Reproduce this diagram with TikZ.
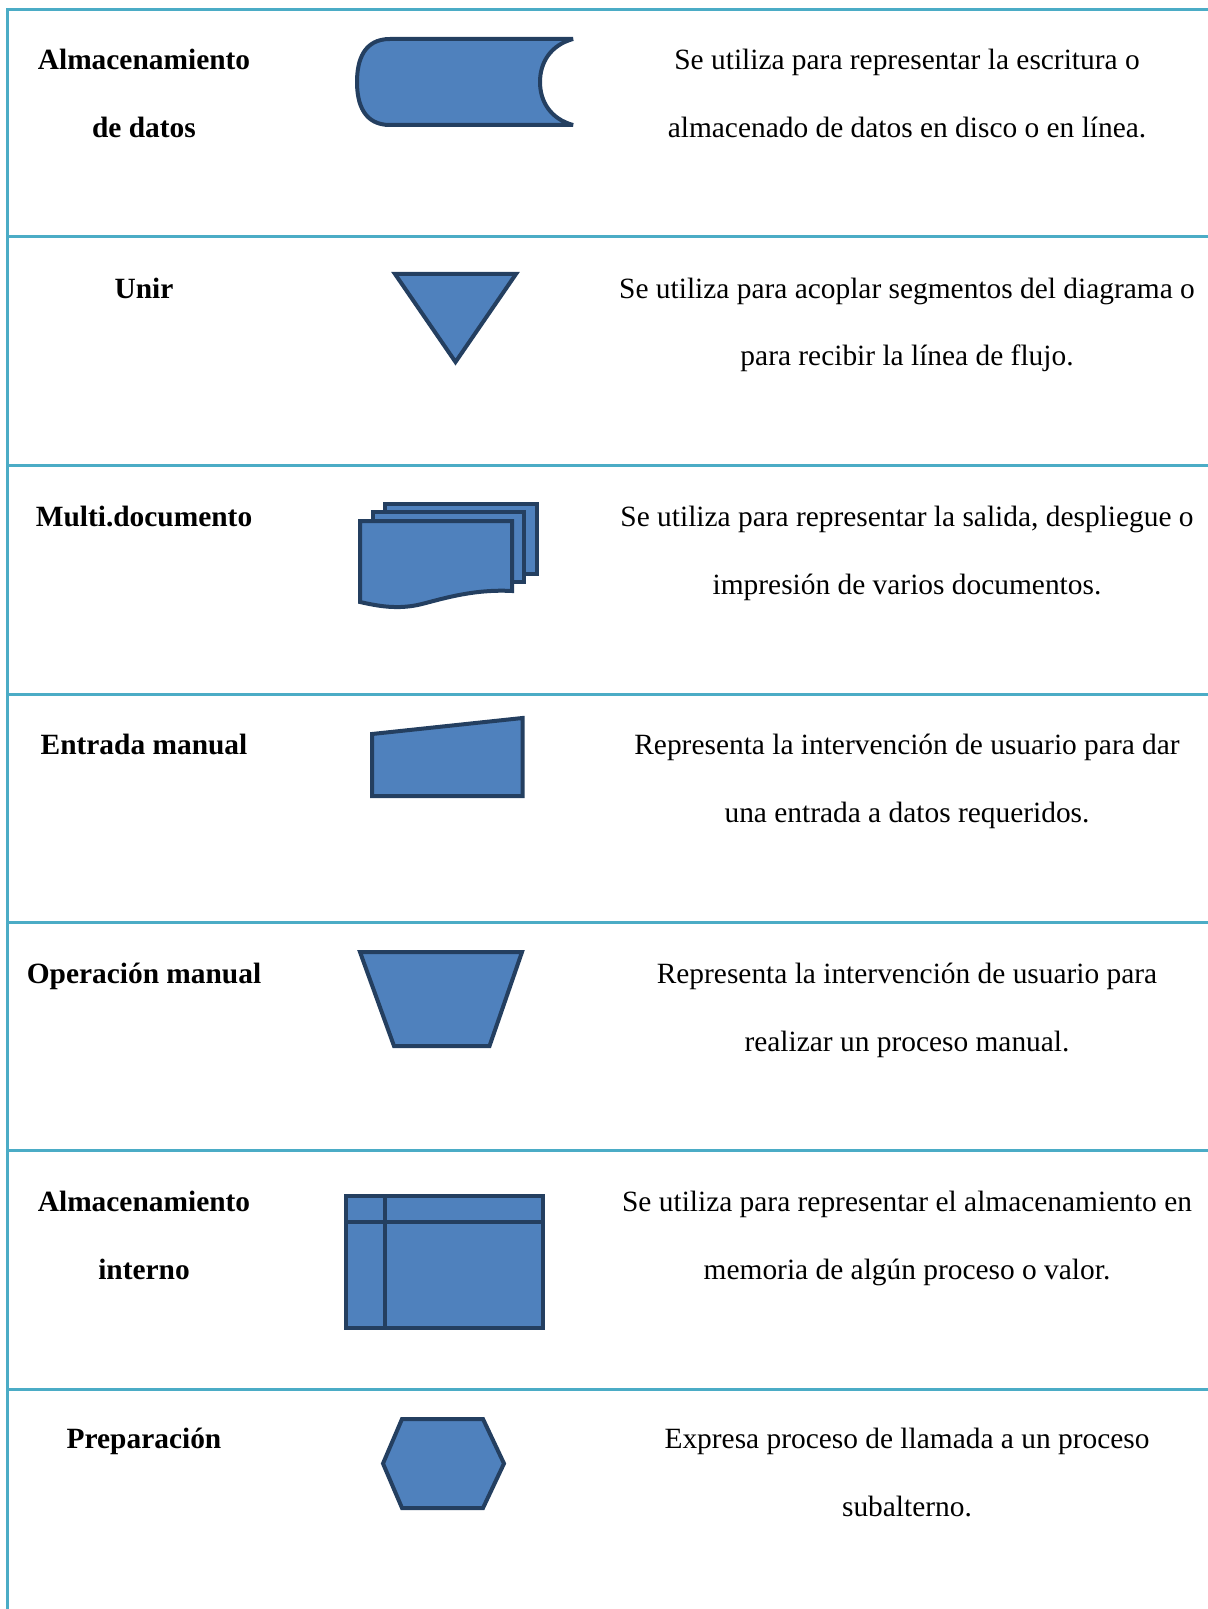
\documentclass[tikz,border=0pt]{standalone}
\usepackage{fontspec}
\setmainfont{Liberation Serif}
\definecolor{tblline}{HTML}{4BACC6}
\definecolor{shapefill}{HTML}{4F81BD}
\definecolor{shapeline}{HTML}{243F60}
\begin{document}
\begin{tikzpicture}[x=0.5pt,y=-0.5pt,
  tbl/.style={draw=tblline, line width=1.5pt},
  symb/.style={draw=shapeline, fill=shapefill, line width=2pt, line join=miter},
  lbl/.style={font=\bfseries\fontsize{14.7pt}{17pt}\selectfont, anchor=base, inner sep=0pt},
  desc/.style={font=\fontsize{14.7pt}{17pt}\selectfont, anchor=base, inner sep=0pt}]
\useasboundingbox (0,0) rectangle (1208,1609);
% table lines
\draw[tbl] (7.5,1609) -- (7.5,10) -- (1208,10);
\foreach \yy in {237,465.5,694,922,1150,1389} {
  \draw[tbl] (7.5,\yy) -- (1208,\yy);
}
% row 1
\node[lbl] (l1a) at (144,70) {Almacenamiento};
\node[lbl] (l1b) at (144,137.5) {de datos};
\node[desc] (d1a) at (907,70) {Se utiliza para representar la escritura o};
\node[desc] (d1b) at (907,137.5) {almacenado de datos en disco o en línea.};
\draw[symb, line join=bevel] (390,39) -- (573,39) .. controls (551,45) and (540,62) .. (540,82)
  .. controls (540,102) and (551,119) .. (573,125) -- (390,125)
  .. controls (364,125) and (357,104) .. (357,82)
  .. controls (357,60) and (364,39) .. (390,39) -- cycle;
% row 2
\node[lbl] (l2) at (144,298.5) {Unir};
\node[desc] (d2a) at (907,298.5) {Se utiliza para acoplar segmentos del diagrama o};
\node[desc] (d2b) at (907,366) {para recibir la línea de flujo.};
\draw[symb] (395,274) -- (516,274) -- (455.5,362) -- cycle;
% row 3
\node[lbl] (l3) at (144,526.5) {Multi.documento};
\node[desc] (d3a) at (907,526.5) {Se utiliza para representar la salida, despliegue o};
\node[desc] (d3b) at (907,594) {impresión de varios documentos.};
\draw[symb] (384.5,503.5) rectangle (536.5,573.5);
\draw[symb] (372.5,512) rectangle (524,582);
\draw[symb] (360,521) -- (512,521) -- (512,591)
  .. controls (475,589) and (445,598) .. (422,604)
  .. controls (398,610) and (378,606) .. (360,602) -- cycle;
% row 4
\node[lbl] (l4) at (144,754.5) {Entrada manual};
\node[desc] (d4a) at (907,754.5) {Representa la intervención de usuario para dar};
\node[desc] (d4b) at (907,822) {una entrada a datos requeridos.};
\draw[symb] (372,734) -- (522.5,718) -- (522.5,796) -- (372,796) -- cycle;
% row 5
\node[lbl] (l5) at (144,983.5) {Operación manual};
\node[desc] (d5a) at (907,983.5) {Representa la intervención de usuario para};
\node[desc] (d5b) at (907,1051) {realizar un proceso manual.};
\draw[symb] (360,952) -- (522,952) -- (489.5,1046) -- (394,1046) -- cycle;
% row 6
\node[lbl] (l6a) at (144,1211.5) {Almacenamiento};
\node[lbl] (l6b) at (144,1279) {interno};
\node[desc] (d6a) at (907,1211.5) {Se utiliza para representar el almacenamiento en};
\node[desc] (d6b) at (907,1279) {memoria de algún proceso o valor.};
\draw[symb] (345.5,1195.5) rectangle (543,1328);
\draw[draw=shapeline, line width=2pt] (384.5,1195.5) -- (384.5,1328);
\draw[draw=shapeline, line width=2pt] (345.5,1222) -- (543,1222);
% row 7
\node[lbl] (l7) at (144,1448.5) {Preparación};
\node[desc] (d7a) at (907,1448.5) {Expresa proceso de llamada a un proceso};
\node[desc] (d7b) at (907,1516) {subalterno.};
\draw[symb] (402,1419) -- (483,1419) -- (504,1463.5) -- (483,1508) -- (402,1508) -- (383,1463.5) -- cycle;
\end{tikzpicture}
\end{document}
